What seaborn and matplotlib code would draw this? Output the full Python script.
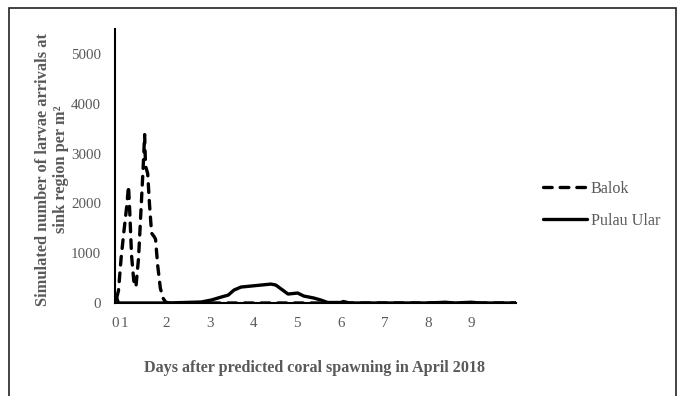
import matplotlib
matplotlib.use("Agg")
import matplotlib.pyplot as plt
import seaborn as sns
import pandas as pd
from matplotlib.patches import Rectangle

# ---- data ----
balok_day = [0.858, 0.90, 0.96, 1.02, 1.09, 1.13, 1.16, 1.20, 1.25, 1.30, 1.36, 1.43,
             1.47, 1.50, 1.52, 1.57, 1.61, 1.66, 1.72, 1.75, 1.80, 1.86, 1.92, 1.98,
             2.05, 3.0, 4.0, 5.0, 6.0, 7.0, 8.0, 9.0, 10.02]
balok_val = [100, 250, 900, 1400, 1950, 2350, 1800, 950, 450, 320, 900, 2100,
             2800, 3380, 2750, 2600, 2000, 1400, 1330, 1280, 750, 300, 100, 20,
             0, 0, 0, 0, 0, 0, 0, 0, 0]

ular_day = [0.858, 0.90, 2.0, 2.4, 2.8, 3.03, 3.26, 3.42, 3.55, 3.71, 3.94, 4.17,
            4.40, 4.51, 4.79, 5.01, 5.15, 5.38, 5.54, 5.70, 6.0, 6.06, 6.2, 8.0,
            8.4, 8.6, 9.0, 9.2, 10.02]
ular_val = [100, 0, 0, 10, 20, 60, 120, 160, 260, 320, 340, 360,
            380, 360, 180, 200, 140, 100, 60, 10, 10, 30, 0, 0,
            15, 0, 15, 0, 0]

x_tick_pos = [0.82, 1.04, 2, 3, 4, 5, 6, 7, 8, 9]
x_tick_labels = ["0", "1", "2", "3", "4", "5", "6", "7", "8", "9"]
y_ticks = [0, 1000, 2000, 3000, 4000, 5000]

series_names = ["Balok", "Pulau Ular"]

df = pd.concat([
    pd.DataFrame({"day": balok_day, "value": balok_val, "site": series_names[0]}),
    pd.DataFrame({"day": ular_day, "value": ular_val, "site": series_names[1]}),
])

sns.set_style("white")
plt.rcParams["font.family"] = ["Liberation Serif", "DejaVu Serif"]
plt.rcParams["lines.dash_capstyle"] = "round"
plt.rcParams["lines.solid_capstyle"] = "round"

W, H = 685, 396
fig = plt.figure(figsize=(W / 100, H / 100), dpi=100)
ax = fig.add_axes([115 / W, (H - 303) / H, 401 / W, (303 - 29) / H])

sns.lineplot(data=df, x="day", y="value", style="site", hue="site",
             palette={"Balok": "black", "Pulau Ular": "black"},
             dashes={"Balok": (2.6, 2.4), "Pulau Ular": ""},
             linewidth=2.4, sort=False, ax=ax, legend=False)

ax.set_xlim(0.858, 10.02)
ax.set_ylim(0, 5500)
ax.set_xticks(x_tick_pos)
ax.set_xticklabels(x_tick_labels)
ax.set_yticks(y_ticks)
ax.tick_params(axis="both", length=0, labelsize=10.8, labelcolor="#595959")
ax.tick_params(axis="y", pad=10)
ax.tick_params(axis="x", pad=10)
ax.set_xlabel("")
ax.set_ylabel("")
for s in ["top", "right"]:
    ax.spines[s].set_visible(False)
for s in ["left", "bottom"]:
    ax.spines[s].set_color("black")
    ax.spines[s].set_linewidth(1.5)

# axis titles
fig.text(315 / W, 1 - 368 / H, "Days after predicted coral spawning in April 2018",
         ha="center", va="center", fontsize=11.6, fontweight="bold", color="#595959")
fig.text(52 / W, 1 - 169 / H,
         "Simulated number of larvae arrivals at\nsink region per m\u00b2",
         ha="center", va="center", rotation=90, fontsize=11.8, fontweight="bold",
         color="#595959", multialignment="center", linespacing=1.15)

# legend
lines = ax.get_lines()
leg = fig.legend(lines[:2], series_names, loc="center left",
                 bbox_to_anchor=(543 / W, 1 - 205 / H), frameon=False,
                 borderpad=0, borderaxespad=0, handlelength=2.7,
                 handletextpad=0.25, labelspacing=1.0, fontsize=11.6)
for t in leg.get_texts():
    t.set_color("#595959")

# outer frame
fig.patches.append(Rectangle((9 / W, -0.05), (676 - 9) / W, 1.05 - 8 / H,
                             transform=fig.transFigure, fill=False,
                             edgecolor="#222222", linewidth=1.2))

fig.savefig("out.png", dpi=100)
